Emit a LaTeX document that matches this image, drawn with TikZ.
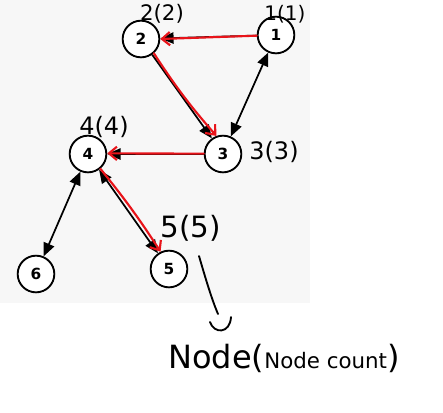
\documentclass[tikz,border=0pt]{standalone}
\usepackage{fontspec}
\setmainfont{DejaVu Sans}
\usetikzlibrary{arrows.meta}
\definecolor{bggray}{HTML}{F7F7F7}
\definecolor{penred}{HTML}{E8141A}
\begin{document}
\begin{tikzpicture}[x=0.75pt,y=-0.75pt,
  vert/.style={circle,draw,line width=1.4pt,fill=white,minimum size=27.5pt,inner sep=0pt,font=\bfseries\fontsize{11.5}{11.5}\selectfont},
  blk/.style={line width=1.3pt,-{Triangle[length=10pt,width=8.5pt]}},
  blkboth/.style={line width=1.3pt,{Triangle[length=10pt,width=8.5pt]}-{Triangle[length=10pt,width=8.5pt]}},
  redpath/.style={draw=penred,line width=1.6pt,line cap=round,-{Straight Barb[length=6pt,width=10pt,line width=1.6pt]}},
  hand/.style={line width=1.4pt,line cap=round},
  lbl/.style={inner sep=0pt}]
\useasboundingbox (0,0) rectangle (443,412);
\fill[bggray] (0,0) rectangle (310,303);
% vertices
\node[vert] (n1) at (276,35) {1};
\node[vert] (n2) at (141,39) {2};
\node[vert] (n3) at (223,154) {3};
\node[vert] (n4) at (88,154) {4};
\node[vert] (n5) at (169,269) {5};
\node[vert] (n6) at (36,274) {6};
% black edges
\draw[blk] (n1) -- (n2);
\draw[blk] (n2) -- (n3);
\draw[blkboth] (n1) -- (n3);
\draw[blk] (n3) -- (n4);
\draw[blkboth] (n4) -- (n5);
\draw[blkboth] (n4) -- (n6);
% red traversal
\draw[redpath] (n1.182) -- (n2.0);
\draw[redpath] (n2.-48) to[bend right=4] (n3.110);
\draw[redpath] (n3.179) -- (n4.2);
\draw[redpath] (n4.-50) to[bend left=3] (n5.116);
% labels
\node[lbl,font=\fontsize{15}{15}\selectfont] (l1) at (285,14) {1(1)};
\node[lbl,font=\fontsize{16}{16}\selectfont] (l2) at (162,14) {2(2)};
\node[lbl,font=\fontsize{18}{18}\selectfont] (l3) at (274,152) {3(3)};
\node[lbl,font=\fontsize{18}{18}\selectfont] (l4) at (104,127) {4(4)};
\node[lbl,font=\fontsize{22}{22}\selectfont] (l5) at (191,228) {5(5)};
% annotation
\coordinate (a0) at (199,256);
\coordinate (a1) at (218,314);
\draw[hand] (a0) .. controls (206,280) and (212,300) .. (a1);
\draw[hand] (210,322) .. controls (214,334) and (230,334) .. (231,317);
\node[lbl] (note) at (284,358) {\fontsize{24}{24}\selectfont Node(\fontsize{16}{16}\selectfont Node count\fontsize{24}{24}\selectfont)};
\end{tikzpicture}
\end{document}
